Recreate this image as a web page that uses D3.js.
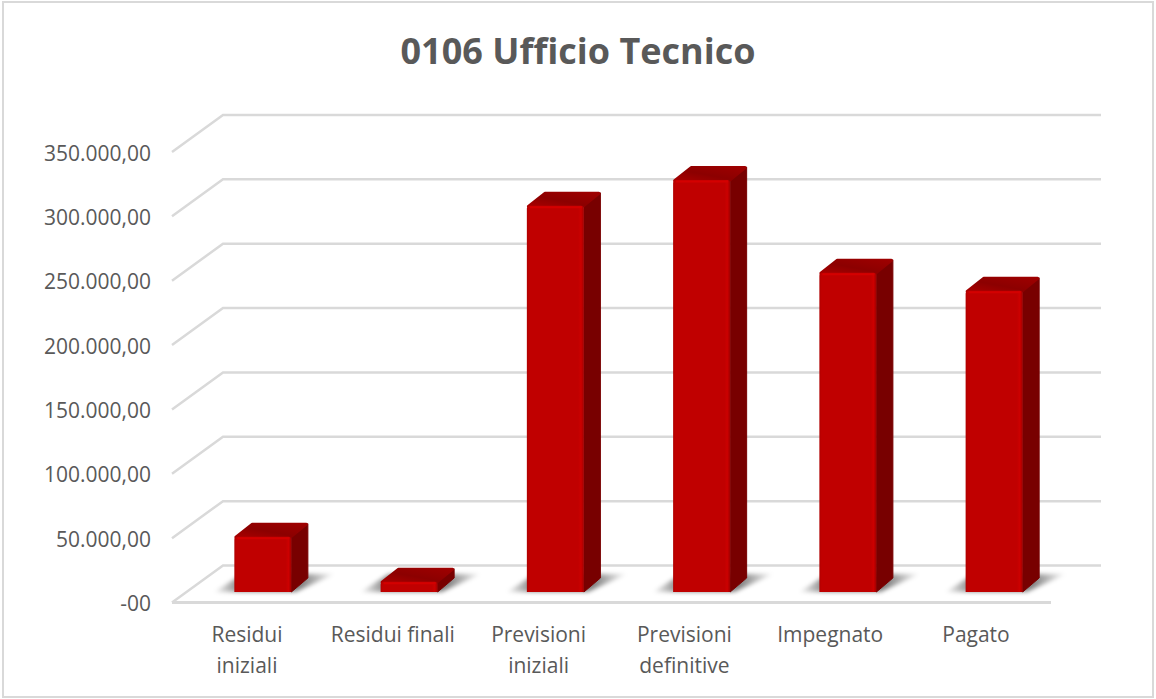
<!DOCTYPE html>
<html>
<head>
<meta charset="utf-8">
<title>0106 Ufficio Tecnico</title>
<script src="https://cdn.jsdelivr.net/npm/d3@7"></script>
<style>
  html, body { margin: 0; padding: 0; background: #fff; }
  svg { display: block; }
  text { font-family: "Open Sans", sans-serif; fill: #595959; }
</style>
</head>
<body>
<svg id="chart" width="1156" height="699"></svg>
<script>
// Data
var categories = ['Residui iniziali', 'Residui finali', 'Previsioni iniziali', 'Previsioni definitive', 'Impegnato', 'Pagato'];
var categoryLines = [['Residui', 'iniziali'], ['Residui finali'], ['Previsioni', 'iniziali'], ['Previsioni', 'definitive'], ['Impegnato'], ['Pagato']];
var values = [43000, 8000, 300000, 320000, 248000, 234000];
var tickValues = [0, 50000, 100000, 150000, 200000, 250000, 300000, 350000];
var tickLabels = ['-00', '50.000,00', '100.000,00', '150.000,00', '200.000,00', '250.000,00', '300.000,00', '350.000,00'];

// Layout
var width = 1156, height = 699;
var floor = {x0: 172, x1: 1051, y: 602.5};   // front edge of the floor
var wallDx = 51, wallDy = -37;               // floor front -> back wall
var barDx = 17, barDy = -14;                 // bar depth
var baseY = 592;                             // bar front base

var svg = d3.select('#chart');

// bars sit a bit back on the floor so they are shifted right of the front edge
var x = d3.scaleBand()
  .domain(categories)
  .range([floor.x0 + 17, floor.x1 + 17])
  .paddingInner(0.61)
  .paddingOuter(0.31);

// category labels follow the front edge
var xLabel = d3.scalePoint()
  .domain(categories)
  .range([247, 976]);

// y is the height above the front floor edge
var y = d3.scaleLinear().domain([0, 350000]).range([floor.y, floor.y - 450.5]);
var barHeight = function (v) { return y(0) - y(v); };

var defs = svg.append('defs');

var topGrad = defs.append('linearGradient').attr('id', 'topGrad')
  .attr('x1', 0).attr('x2', 1).attr('y1', 1).attr('y2', 0);
topGrad.append('stop').attr('offset', '0%').attr('stop-color', '#a80000');
topGrad.append('stop').attr('offset', '45%').attr('stop-color', '#8c0000');
topGrad.append('stop').attr('offset', '100%').attr('stop-color', '#9e0000');

var frontGrad = defs.append('linearGradient').attr('id', 'frontGrad')
  .attr('x1', 0).attr('x2', 1).attr('y1', 0).attr('y2', 0);
frontGrad.append('stop').attr('offset', '0%').attr('stop-color', '#b00000');
frontGrad.append('stop').attr('offset', '4%').attr('stop-color', '#c00000');
frontGrad.append('stop').attr('offset', '90%').attr('stop-color', '#c00000');
frontGrad.append('stop').attr('offset', '95%').attr('stop-color', '#cc0000');
frontGrad.append('stop').attr('offset', '100%').attr('stop-color', '#a00000');

var shadowGrad = defs.append('linearGradient').attr('id', 'shadowGrad')
  .attr('x1', 0).attr('x2', 1).attr('y1', 0).attr('y2', 0);
shadowGrad.append('stop').attr('offset', '0%').attr('stop-color', '#000').attr('stop-opacity', 0.03);
shadowGrad.append('stop').attr('offset', '20%').attr('stop-color', '#000').attr('stop-opacity', 0.45);
shadowGrad.append('stop').attr('offset', '72%').attr('stop-color', '#000').attr('stop-opacity', 0.5);
shadowGrad.append('stop').attr('offset', '100%').attr('stop-color', '#000').attr('stop-opacity', 0.02);

defs.append('filter').attr('id', 'blur')
  .attr('x', '-30%').attr('y', '-60%').attr('width', '160%').attr('height', '220%')
  .append('feGaussianBlur').attr('stdDeviation', 2);

// Chart frame
svg.append('rect')
  .attr('x', 3).attr('y', 2)
  .attr('width', 1150).attr('height', 695)
  .attr('fill', '#fff')
  .attr('stroke', '#d9d9d9')
  .attr('stroke-width', 2);

// Title
svg.append('text')
  .attr('x', 578).attr('y', 64)
  .attr('text-anchor', 'middle')
  .style('font-size', '36px')
  .style('font-weight', 700)
  .text('0106 Ufficio Tecnico');

// Gridlines: side wall + back wall
var grid = svg.append('g').attr('class', 'grid');
grid.selectAll('path')
  .data(tickValues)
  .enter().append('path')
  .attr('fill', 'none')
  .attr('stroke', '#d9d9d9')
  .attr('stroke-width', 2.5)
  .attr('d', function (d) {
    return 'M' + floor.x0 + ',' + y(d) +
      'L' + (floor.x0 + wallDx) + ',' + (y(d) + wallDy) +
      'L' + (floor.x1 + wallDx - 1) + ',' + (y(d) + wallDy);
  });

// Front edge of the floor
svg.append('line')
  .attr('x1', floor.x0).attr('x2', floor.x1)
  .attr('y1', y(0)).attr('y2', y(0))
  .attr('stroke', '#d9d9d9')
  .attr('stroke-width', 3);

// Y labels
svg.append('g').selectAll('text')
  .data(tickValues)
  .enter().append('text')
  .attr('x', 151)
  .attr('y', function (d) { return y(d) + 8.5; })
  .attr('text-anchor', 'end')
  .style('font-size', '21px')
  .text(function (d, i) { return tickLabels[i]; });

// Bars
var bars = svg.append('g').selectAll('g')
  .data(categories)
  .enter().append('g');

function poly (pts) { return 'M' + pts.join('L') + 'Z'; }

// soft shadow on the floor
bars.append('path')
  .attr('fill', 'url(#shadowGrad)')
  .attr('filter', 'url(#blur)')
  .attr('d', function (d) {
    var l = x(d), r = l + x.bandwidth();
    return poly([[l - 20, baseY], [r + 4, baseY], [r + barDx + 26, baseY - 18], [l + 8, baseY - 18]]);
  });

// right side
bars.append('path')
  .attr('fill', '#780000')
  .attr('stroke', '#780000')
  .attr('stroke-width', 1)
  .attr('stroke-linejoin', 'round')
  .attr('d', function (d, i) {
    var r = x(d) + x.bandwidth(), t = baseY - barHeight(values[i]);
    return poly([[r, baseY], [r + barDx - 0.5, baseY + barDy], [r + barDx - 0.5, t + barDy + 1], [r, t]]);
  });

// top
bars.append('path')
  .attr('fill', 'url(#topGrad)')
  .attr('stroke', 'url(#topGrad)')
  .attr('stroke-width', 3)
  .attr('stroke-linejoin', 'round')
  .attr('d', function (d, i) {
    var l = x(d), r = l + x.bandwidth(), t = baseY - barHeight(values[i]);
    return poly([[l + 1.5, t + 0.5], [l + barDx + 1, t + barDy + 1.5], [r + barDx - 2, t + barDy + 1.5], [r - 1, t + 0.5]]);
  });

// front
bars.append('path')
  .attr('fill', 'url(#frontGrad)')
  .attr('d', function (d, i) {
    var l = x(d), r = l + x.bandwidth(), t = baseY - barHeight(values[i]);
    return 'M' + l + ',' + baseY + 'L' + l + ',' + (t + 3) +
      'Q' + l + ',' + t + ' ' + (l + 3) + ',' + t +
      'L' + (r - 3) + ',' + t +
      'Q' + r + ',' + t + ' ' + r + ',' + (t + 3) +
      'L' + r + ',' + baseY + 'Z';
  });

// bevel along the top of the front face
bars.append('line')
  .attr('x1', function (d) { return x(d) + 3; })
  .attr('x2', function (d) { return x(d) + x.bandwidth() - 2; })
  .attr('y1', function (d, i) { return baseY - barHeight(values[i]) + 1.5; })
  .attr('y2', function (d, i) { return baseY - barHeight(values[i]) + 1.5; })
  .attr('stroke', '#d40000')
  .attr('stroke-width', 2);

// X labels
var labels = svg.append('g').selectAll('text')
  .data(categories)
  .enter().append('text')
  .attr('text-anchor', 'middle')
  .style('font-size', '21px');

labels.selectAll('tspan')
  .data(function (d, i) {
    return categoryLines[i].map(function (t) { return {text: t, cat: d}; });
  })
  .enter().append('tspan')
  .attr('x', function (d) { return xLabel(d.cat); })
  .attr('y', function (d, i) { return 642 + i * 31; })
  .text(function (d) { return d.text; });
</script>
</body>
</html>
